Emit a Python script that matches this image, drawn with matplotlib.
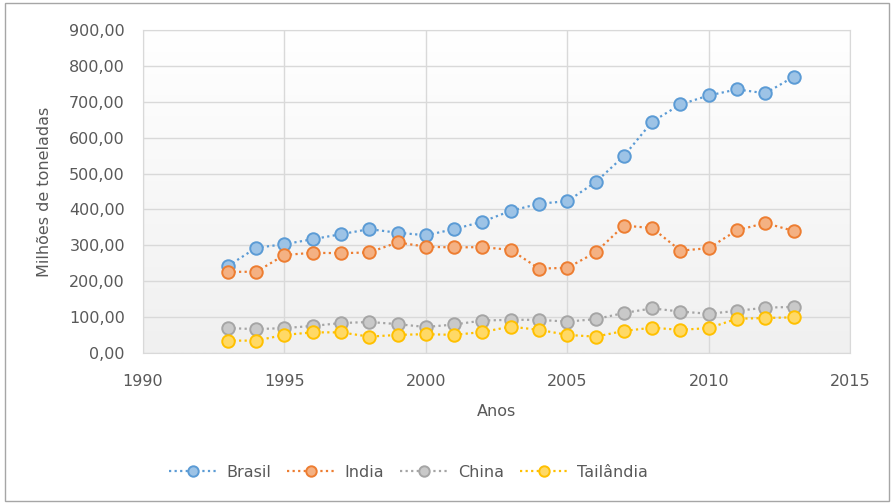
import numpy as np
import matplotlib.pyplot as plt
from matplotlib.colors import LinearSegmentedColormap
from matplotlib.patches import Rectangle
from matplotlib.ticker import FuncFormatter

anos = list(range(1993, 2014))

brasil = [242, 293, 303, 317, 331, 345, 335, 328, 345, 366, 396, 416,
          423, 476, 549, 645, 693, 718, 735, 724, 770]
india = [226, 226, 273, 279, 278, 280, 308, 296, 294, 295, 287, 235,
         237, 280, 355, 348, 285, 292, 342, 362, 340]
china = [69, 66, 69, 75, 83, 86, 80, 72, 79, 90, 92, 92,
         87, 94, 111, 124, 115, 109, 117, 126, 128]
tailandia = [34, 34, 50, 57, 57, 45, 50, 52, 50, 58, 73, 64,
             50, 45, 61, 70, 64, 69, 95, 97, 99]

series = [
    ("Brasil", brasil, "#5b9bd5", "#9dc3e6"),
    ("India", india, "#ed7d31", "#f4b183"),
    ("China", china, "#a5a5a5", "#c9c9c9"),
    ("Tailândia", tailandia, "#ffc000", "#ffd966"),
]

txt = "#595959"
plt.rcParams["font.family"] = ["DejaVu Sans"]

fig = plt.figure(figsize=(8.94, 5.04), dpi=100)
ax = fig.add_axes([0.160, 0.300, 0.791, 0.640])

# soft vertical gradient behind the plot area
grad = np.linspace(0, 1, 256).reshape(-1, 1)
ax.imshow(grad, extent=[0, 1, 0, 1], transform=ax.transAxes,
          cmap=LinearSegmentedColormap.from_list("bg", ["#ffffff", "#f0f0f0"]),
          aspect="auto", zorder=0)

for nome, vals, edge, fill in series:
    ax.plot(anos, vals, linestyle=(0, (1, 1.5)), color=edge, linewidth=1.6,
            marker="o", markersize=9, markerfacecolor=fill,
            markeredgecolor=edge, markeredgewidth=1.4, label=nome, zorder=3)

ax.set_xlim(1990, 2015)
ax.set_ylim(0, 900)
ax.set_xticks(range(1990, 2016, 5))
ax.set_yticks(range(0, 901, 100))
ax.yaxis.set_major_formatter(FuncFormatter(lambda v, p: f"{v:.2f}".replace(".", ",")))
ax.grid(True, color="#d9d9d9", linewidth=1.0, zorder=1)
ax.set_axisbelow(True)
for s in ax.spines.values():
    s.set_color("#d9d9d9")
ax.tick_params(length=0, labelsize=11.5, colors=txt)
ax.tick_params(axis="x", pad=15)
ax.tick_params(axis="y", pad=13)

ax.set_xlabel("Anos", fontsize=11.5, color=txt, labelpad=11)
ax.set_ylabel("Milhões de toneladas", fontsize=11.5, color=txt, labelpad=12)

# legend row along the bottom of the figure
leg = ax.legend(loc="center", bbox_to_anchor=(0.457, 0.063),
                bbox_transform=fig.transFigure, ncol=4, borderaxespad=0,
                frameon=False, fontsize=11.5, handlelength=3.0,
                columnspacing=1.0, handletextpad=0.6)
for h in leg.legend_handles:
    h.set_markersize(7.5)
for t in leg.get_texts():
    t.set_color(txt)

fig.patches.append(Rectangle((0.006, 0.006), 0.988, 0.988, transform=fig.transFigure,
                             fill=False, edgecolor="#a6a6a6", linewidth=1.0))

fig.savefig("out.png", dpi=100)
